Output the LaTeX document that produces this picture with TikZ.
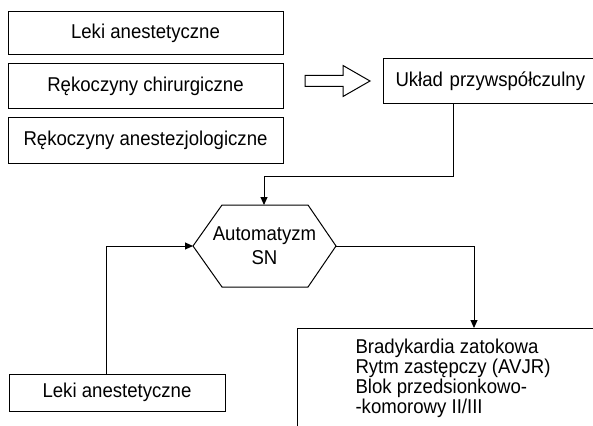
\documentclass[tikz,border=0pt]{standalone}
\usepackage{fontspec}
\setmainfont{Liberation Sans}[FakeStretch=0.93]
\usetikzlibrary{arrows.meta}
\begin{document}
\begin{tikzpicture}[x=1pt,y=-1pt,
  line width=1pt,
  every node/.style={font=\fontsize{20}{20}\selectfont},
  box/.style={draw, inner sep=0pt},
  arr/.style={-{Triangle[length=8pt,width=7pt]}}]
\clip (0,0) rectangle (593,425);
\fill[white] (0,0) rectangle (593,425);
% left boxes
\node[box, minimum width=275pt, minimum height=43pt] (b1) at (145.5,33.5) {Leki anestetyczne};
\node[box, minimum width=275pt, minimum height=44pt] (b2) at (145.5,86) {Rękoczyny chirurgiczne};
\node[box, minimum width=275pt, minimum height=46pt] (b3) at (145.5,140) {Rękoczyny anestezjologiczne};
% hollow arrow
\draw (305,75.5) -- (343,75.5) -- (343,65.5) -- (370,81) -- (343,96.5) -- (343,86.5) -- (305,86.5) -- cycle;
% parasympathetic box
\node[box, anchor=west, minimum height=44pt, text width=206pt, inner xsep=12pt, align=left] (uklad) at (383,81) {Układ przywspółczulny};
% hexagon
\coordinate (hexL) at (193,246);
\coordinate (hexR) at (336,246);
\coordinate (hexT) at (264,205);
\draw (hexL) -- (222,205) -- (308,205) -- (hexR) -- (308,287) -- (222,287) -- cycle;
\node[font=\fontsize{20}{24}\selectfont, align=center] (hex) at (264.5,246) {Automatyzm\\SN};
% bottom left box
\node[box, minimum width=216pt, minimum height=37pt] (leki2) at (117,392.5) {Leki anestetyczne};
% result box
\node[box, anchor=north west, minimum width=320pt, minimum height=120pt] (res) at (297,328) {};
\node[anchor=north west, inner sep=0pt, align=left] (restext) at (355,339)
  {Bradykardia zatokowa\\Rytm zastępczy (AVJR)\\Blok przedsionkowo-\\-komorowy II/III};
% connectors
\draw[arr] ([xshift=70pt]uklad.south west) -- ++(0,73) -| (hexT);
\draw[arr] ([xshift=98pt]leki2.north west) |- (hexL);
\draw[arr] (hexR) -| ([xshift=177pt]res.north west);
\end{tikzpicture}
\end{document}
